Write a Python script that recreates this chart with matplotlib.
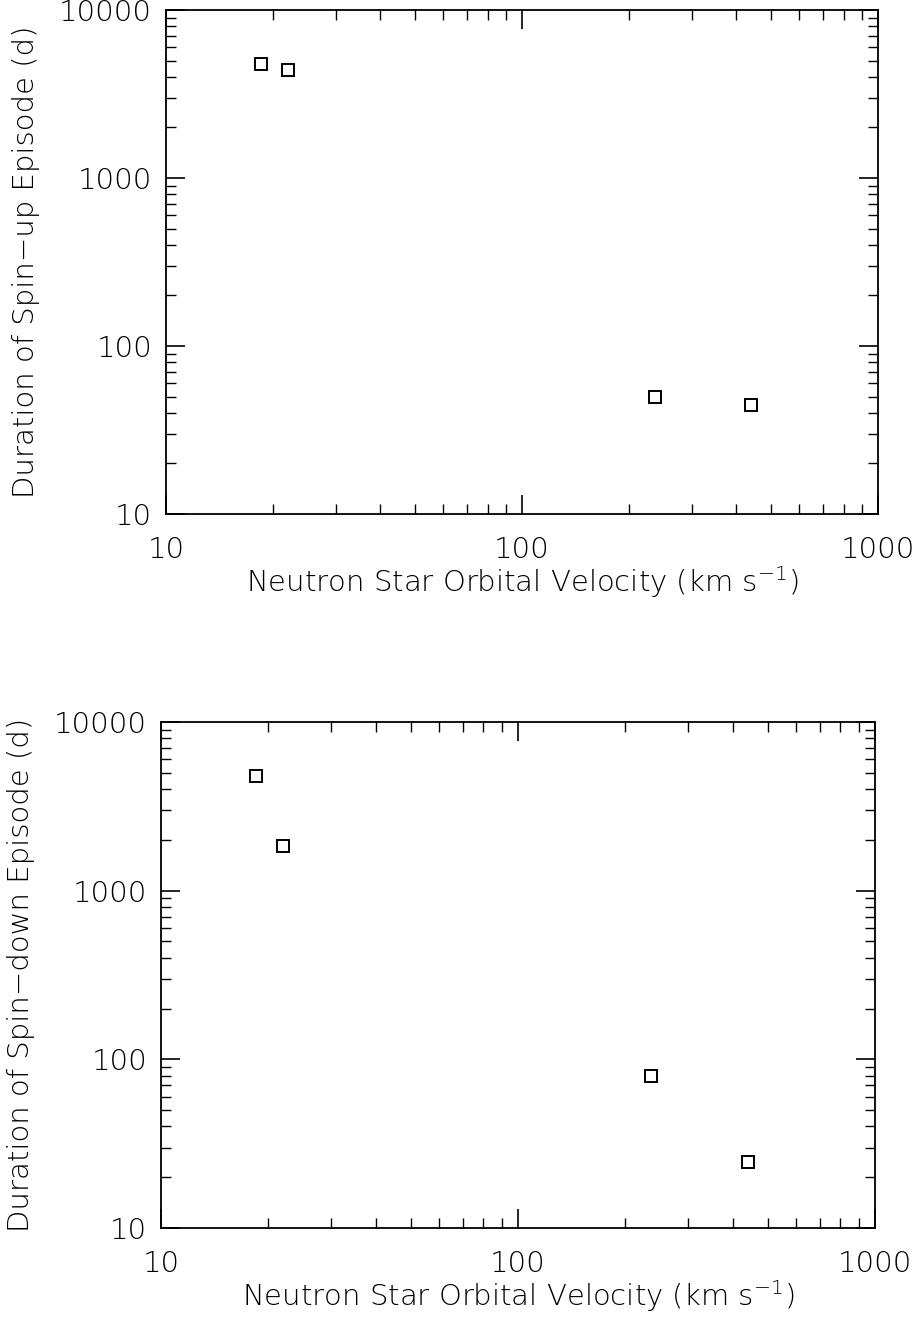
import matplotlib
matplotlib.use("Agg")
import matplotlib.pyplot as plt
from matplotlib.ticker import LogLocator, FixedLocator, NullFormatter

# Neutron star orbital velocity (km/s) for the four systems
velocity = [18.5, 22.0, 236.0, 440.0]
# Episode durations (days)
spin_up_duration = [4800, 4400, 49.5, 44.5]
spin_down_duration = [4800, 1850, 80, 24.5]

x_ticks = [10, 100, 1000]
x_tick_labels = ["10", "100", "1000"]
y_ticks = [10, 100, 1000, 10000]
y_tick_labels = ["10", "100", "1000", "10000"]

plt.rcParams["font.family"] = ["DejaVu Sans"]
plt.rcParams["font.weight"] = "light"
plt.rcParams["axes.labelweight"] = "light"
plt.rcParams["mathtext.fontset"] = "custom"
plt.rcParams["mathtext.rm"] = "DejaVu Sans:light"
plt.rcParams["mathtext.default"] = "rm"

fig = plt.figure(figsize=(9.2, 13.18), dpi=100)
W, H = 920, 1318

panels = [
    (spin_up_duration, "Duration of Spin\u2212up Episode (d)", (166, 10, 878, 514)),
    (spin_down_duration, "Duration of Spin\u2212down Episode (d)", (161, 722, 875, 1228)),
]

for yvals, ylabel, (l, t, r, b) in panels:
    ax = fig.add_axes([l / W, 1 - b / H, (r - l) / W, (b - t) / H])
    ax.set_xscale("log")
    ax.set_yscale("log")
    ax.set_xlim(10, 1000)
    ax.set_ylim(10, 10000)
    ax.plot(velocity, yvals, linestyle="none", marker="s", markersize=9.3,
            markerfacecolor="white", markeredgecolor="black", markeredgewidth=1.4)
    ax.xaxis.set_major_locator(FixedLocator(x_ticks))
    ax.set_xticklabels(x_tick_labels)
    ax.yaxis.set_major_locator(FixedLocator(y_ticks))
    ax.set_yticklabels(y_tick_labels)
    ax.xaxis.set_minor_locator(LogLocator(base=10, subs=range(2, 10)))
    ax.yaxis.set_minor_locator(LogLocator(base=10, subs=range(2, 10)))
    ax.xaxis.set_minor_formatter(NullFormatter())
    ax.yaxis.set_minor_formatter(NullFormatter())
    ax.tick_params(which="both", direction="in", top=True, right=True,
                   color="black", labelsize=21)
    ax.tick_params(axis="x", which="major", pad=16)
    ax.tick_params(axis="y", which="major", pad=10)
    ax.tick_params(which="major", length=14, width=1.2)
    ax.tick_params(which="minor", length=7, width=1.0)
    for s in ax.spines.values():
        s.set_linewidth(1.3)
    ax.set_xlabel("Neutron Star Orbital Velocity (km s$^{-1}$)", fontsize=21,
                  fontweight="light", labelpad=0)
    ax.set_ylabel(ylabel, fontsize=21, fontweight="light", labelpad=14)

fig.savefig("out.png", dpi=100)
